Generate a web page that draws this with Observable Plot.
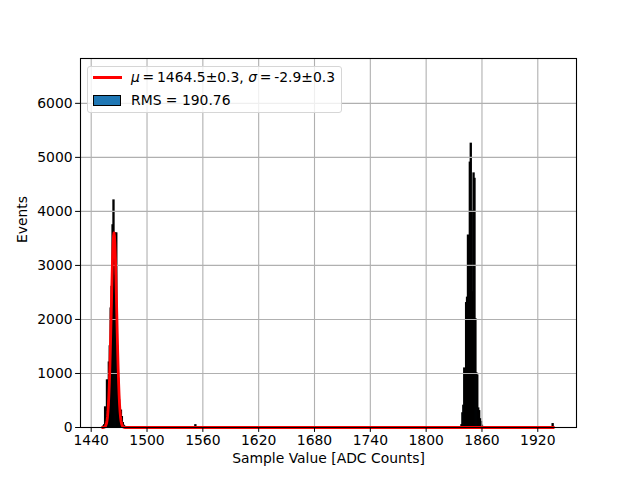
<!DOCTYPE html>
<html>
<head>
<meta charset="utf-8">
<script src="https://cdn.jsdelivr.net/npm/d3@7"></script>
<script src="https://cdn.jsdelivr.net/npm/@observablehq/plot@0.6"></script>
<style>
  html, body { margin: 0; padding: 0; background: #fff; }
  #wrap { position: relative; width: 640px; height: 480px; font-family: "DejaVu Sans", sans-serif; }
  #legend {
    position: absolute; left: 87px; top: 66px; width: 255px; height: 47px;
    border: 1px solid #d6d6d6; border-radius: 3px; background: rgba(255,255,255,0.8);
    font-family: "DejaVu Sans", sans-serif; font-size: 13.9px; color: #000; box-sizing: border-box;
  }
  .row { position: absolute; left: 0; height: 20px; white-space: nowrap; }
  .swline { position: absolute; left: 5px; width: 29px; height: 3px; background: #ff0000; }
  .swpatch { position: absolute; left: 5px; width: 26px; height: 9px; background: #1f77b4; border: 1px solid #000; }
  .txt { position: absolute; left: 43px; line-height: 18px; }
</style>
</head>
<body>
<div id="wrap"></div>
<script>
// Histogram bins (left edge, width 1 ADC count) and counts
const binLo = [
  1453,1454,1455,1456,1457,1458,1459,1460,1461,1462,1463,1464,1465,1466,1467,1468,1469,1470,1471,1472,1473,1474,1475,1476,
  1552,
  1838,1839,1840,1841,1842,1843,1844,1845,1846,1847,1848,1849,1850,1851,1852,1853,1854,1855,1856,1857,1858,1859,1860,
  1936
];
const counts = [
  15,40,370,150,870,500,1200,1500,2200,2600,3740,4200,2800,3590,3590,1500,900,500,200,310,190,80,30,10,
  40,
  40,260,400,1090,1000,2300,2400,3550,3500,4900,5250,4000,2500,4700,4600,2000,1000,960,350,300,150,100,30,
  60
];
// Fitted curve
const fitX = [1452,1452.5,1453.5,1454.5,1455.5,1456.5,1457,1457.5,1458,1458.5,1459,1459.5,1460,1460.5,1461,1461.5,1462,1462.5,1463,1463.5,1464,1464.5,1465,1465.5,1466,1466.5,1467,1467.5,1468,1468.5,1469,1469.5,1470,1470.5,1471,1471.5,1472,1472.5,1473.5,1474.5,1475.5,1476.5,1937];
const fitY = [0,0,3,9,29,80,127,195,292,424,596,815,1080,1391,1738,2108,2483,2838,3149,3392,3547,3600,3547,3392,3149,2838,2483,2108,1738,1391,1080,815,596,424,292,195,127,80,29,9,3,0,0];
const xTicks = [1440,1500,1560,1620,1680,1740,1800,1860,1920];
const yTicks = [0,1000,2000,3000,4000,5000,6000];
const xLabel = "Sample Value [ADC Counts]";
const yLabel = "Events";
const legendFit = {mu: "1464.5±0.3", sigma: "-2.9±0.3"};
const legendHist = "RMS = 190.76";

const bars = binLo.map((b, i) => ({lo: b, hi: b + 1, n: counts[i]}));
const fit = fitX.map((x, i) => ({x, y: fitY[i]}));

const fs = 13.9;
const chart = Plot.plot({
  width: 640, height: 480,
  marginLeft: 80, marginRight: 64, marginTop: 58, marginBottom: 53,
  style: {fontFamily: "DejaVu Sans, sans-serif", fontSize: fs + "px", background: "#fff", color: "#000"},
  x: {domain: [1428.5, 1961.6]},
  y: {domain: [0, 6830]},
  marks: [
    Plot.rect(bars, {x1: "lo", x2: "hi", y1: 0, y2: "n", fill: "#1f77b4", stroke: "#000", strokeWidth: 1.4, inset: 0}),
    Plot.gridX(xTicks, {stroke: "#b0b0b0", strokeOpacity: 1, strokeWidth: 1.1}),
    Plot.gridY(yTicks, {stroke: "#b0b0b0", strokeOpacity: 1, strokeWidth: 1.1}),
    Plot.line(fit, {x: "x", y: "y", stroke: "#ff0000", strokeWidth: 2.8}),
    Plot.axisX(xTicks, {label: null, tickSize: 4.9, tickPadding: 3, fontSize: fs, tickFormat: d => String(d)}),
    Plot.axisY(yTicks, {label: null, tickSize: 4.9, tickPadding: 3, fontSize: fs, tickFormat: d => String(d)}),
    Plot.frame({stroke: "#000", strokeWidth: 1.1}),
    Plot.text([xLabel], {frameAnchor: "bottom", text: d => d, dy: 35, fontSize: fs}),
    Plot.text([yLabel], {frameAnchor: "left", text: d => d, dx: -58, rotate: -90, fontSize: fs})
  ]
});
const wrap = document.getElementById("wrap");
wrap.appendChild(chart);

const thin = "\u2009";
const lg = document.createElement("div");
lg.id = "legend";
lg.innerHTML =
  '<div class="row" style="top:0px;width:100%"><div class="swline" style="top:9px"></div>' +
  '<span class="txt" style="top:1px"><i>μ</i>' + thin + '=' + thin + legendFit.mu + ', <i>σ</i>' + thin + '=' + thin + legendFit.sigma + '</span></div>' +
  '<div class="row" style="top:24px;width:100%"><div class="swpatch" style="top:4px"></div>' +
  '<span class="txt" style="top:0px">' + legendHist + '</span></div>';
wrap.appendChild(lg);
</script>
</body>
</html>
